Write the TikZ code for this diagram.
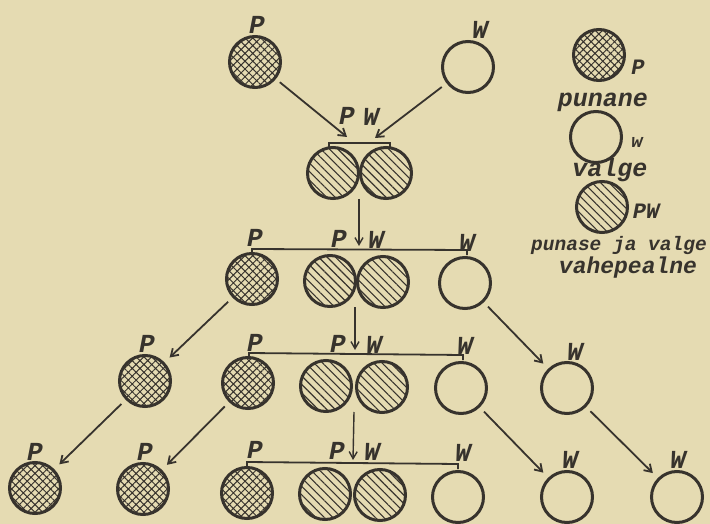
\documentclass[tikz,border=0pt]{standalone}
\usepackage{fontspec}
\setmonofont{Liberation Mono}
\usetikzlibrary{patterns.meta,arrows.meta}
\definecolor{paper}{RGB}{229,219,178}
\definecolor{ink}{RGB}{55,51,45}
\begin{document}
\begin{tikzpicture}[x=1pt,y=-1pt,
  flower/.style={circle,draw=ink,line width=3pt,minimum size=51pt,inner sep=0pt},
  red/.style={flower,pattern={Hatch[angle=45,distance=5.5pt,line width=1pt]},pattern color=ink},
  mixed/.style={flower,pattern={Lines[angle=-45,distance=6pt,line width=1.1pt]},pattern color=ink},
  white/.style={flower},
  lbl/.style={font=\ttfamily\itshape\bfseries\fontsize{26}{26}\selectfont,text=ink,inner sep=0pt},
  leg/.style={font=\ttfamily\itshape\bfseries\fontsize{25}{25}\selectfont,text=ink,inner sep=0pt,anchor=base},
  conn/.style={draw=ink,line width=1.8pt,-{Straight Barb[length=7pt,width=9pt]},shorten <=6pt,shorten >=7pt},
  vconn/.style={draw=ink,line width=1.4pt,-{Straight Barb[length=7pt,width=8pt]}},
  brk/.style={draw=ink,line width=1.8pt}]
\fill[paper] (0,0) rectangle (710,524);
\useasboundingbox (0,0) rectangle (710,524);
% parents
\node[red] (p0) at (255,62) {};
\node[white] (w0) at (468,67) {};
\node[lbl] at (257,25) {P};
\node[lbl] at (480,30) {W};
% F1
\node[mixed] (f1a) at (333,173) {};
\node[mixed] (f1b) at (386,173) {};
\node[lbl] at (347,116) {P};
\node[lbl] at (371,117) {W};
\coordinate (b1l) at (329,148); \coordinate (b1r) at (390,148);
\draw[brk] (b1l) -- ++(0,-5) -- ++(61,0) -- (b1r);
\coordinate (in1) at (347,137); \coordinate (in2) at (375,138);
\draw[conn,shorten >=0pt] (p0) -- (in1);
\draw[conn,shorten >=0pt] (w0) -- (in2);
% F2
\node[red] (f2p) at (252,279) {};
\node[mixed] (f2a) at (330,281) {};
\node[mixed] (f2b) at (383,282) {};
\node[white] (f2w) at (465,283) {};
\node[lbl] at (255,238) {P};
\node[lbl] at (339,239) {P};
\node[lbl] at (376,240) {W};
\node[lbl] at (467,243) {W};
\draw[brk] (252,254) -- (252,249) -- (467,250) -- (467,255);
\coordinate (j1) at (359,199); \coordinate (t1) at (359,246);
\draw[vconn] (j1) -- (t1);
% row 3
\node[red] (r3p) at (145,381) {};
\node[white] (r3w) at (567,388) {};
\node[lbl] at (147,344) {P};
\node[lbl] at (575,352) {W};
\node[red] (f3p) at (248,383) {};
\node[mixed] (f3a) at (326,386) {};
\node[mixed] (f3b) at (382,387) {};
\node[white] (f3w) at (461,388) {};
\node[lbl] at (255,343) {P};
\node[lbl] at (338,344) {P};
\node[lbl] at (374,345) {W};
\node[lbl] at (465,346) {W};
\draw[brk] (249,358) -- (249,353) -- (463,355) -- (463,360);
\coordinate (j2) at (355,307); \coordinate (t2) at (355,350);
\draw[vconn] (j2) -- (t2);
\draw[conn] (f2p) -- (r3p);
\draw[conn] (f2w) -- (r3w);
% row 4
\node[red] (r4p1) at (35,488) {};
\node[red] (r4p2) at (143,489) {};
\node[red] (f4p) at (247,493) {};
\node[mixed] (f4a) at (325,494) {};
\node[mixed] (f4b) at (380,495) {};
\node[white] (f4w) at (458,497) {};
\node[white] (r4w1) at (567,497) {};
\node[white] (r4w2) at (677,497) {};
\node[lbl] at (35,452) {P};
\node[lbl] at (145,452) {P};
\node[lbl] at (255,450) {P};
\node[lbl] at (337,451) {P};
\node[lbl] at (372,452) {W};
\node[lbl] at (463,453) {W};
\node[lbl] at (570,460) {W};
\node[lbl] at (678,460) {W};
\draw[brk] (247,468) -- (247,462) -- (458,464) -- (458,469);
\coordinate (j3) at (354,412); \coordinate (t3) at (353,460);
\draw[vconn] (j3) -- (t3);
\draw[conn] (r3p) -- (r4p1);
\draw[conn] (f3p) -- (r4p2);
\draw[conn] (f3w) -- (r4w1);
\draw[conn] (r3w) -- (r4w2);
% legend
\node[red] (lp) at (599,55) {};
\node[lbl,font=\ttfamily\itshape\bfseries\fontsize{22}{22}\selectfont] at (638,67) {P};
\node[leg] at (603,107) {punane};
\node[white] (lw) at (596,137) {};
\node[lbl,font=\ttfamily\itshape\bfseries\fontsize{19}{19}\selectfont] at (637,142) {w};
\node[leg] at (610,177) {valge};
\node[mixed] (lpw) at (602,207) {};
\node[lbl,font=\ttfamily\itshape\bfseries\fontsize{22}{22}\selectfont] at (646,211) {PW};
\node[leg,font=\ttfamily\itshape\bfseries\fontsize{19.5}{19.5}\selectfont] at (619,251) {punase ja valge};
\node[leg,font=\ttfamily\itshape\bfseries\fontsize{23}{23}\selectfont] at (628,273) {vahepealne};
\end{tikzpicture}
\end{document}
